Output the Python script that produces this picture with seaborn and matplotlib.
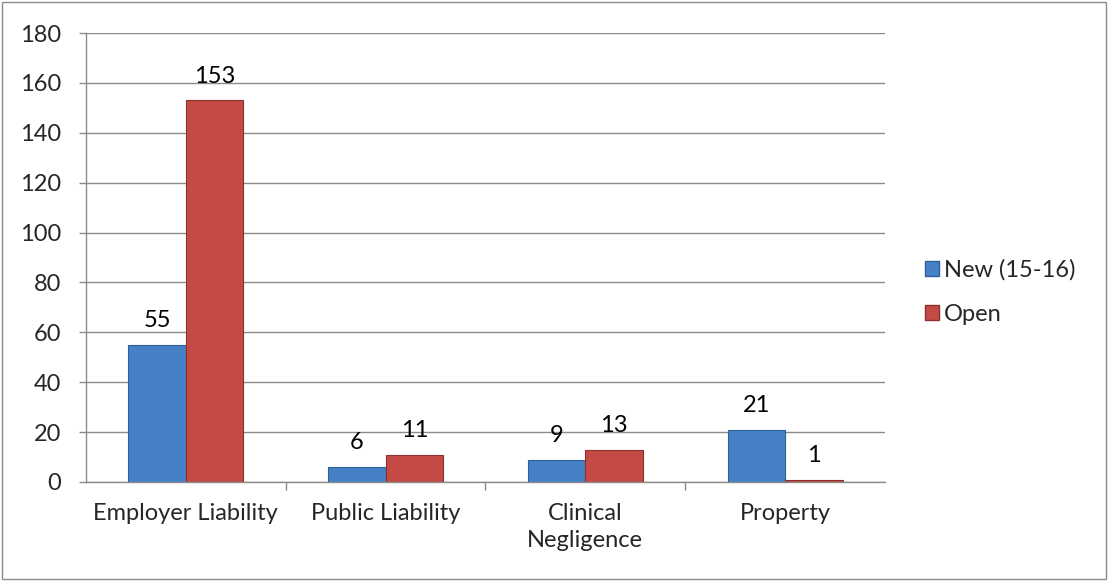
import matplotlib
matplotlib.use("Agg")
import matplotlib.pyplot as plt
import pandas as pd
import seaborn as sns
from matplotlib.patches import Patch, Rectangle

categories = ["Employer Liability", "Public Liability", "Clinical\nNegligence", "Property"]
new_vals = [55, 6, 9, 21]
open_vals = [153, 11, 13, 1]
series = ["New (15-16)", "Open"]
colors = ["#4680C6", "#C44A46"]
edges = ["#2F5F97", "#8E2F2C"]

df = pd.DataFrame({
    "category": categories * 2,
    "series": [series[0]] * 4 + [series[1]] * 4,
    "value": new_vals + open_vals,
})

sns.set_theme(style="white")
plt.rcParams["font.family"] = ["Lato", "DejaVu Sans"]
fs = 17

fig = plt.figure(figsize=(11.09, 5.81), dpi=100)
ax = fig.add_axes([0.0775, 0.1704, 0.7205, 0.7726])

sns.barplot(data=df, x="category", y="value", hue="series", palette=colors,
            width=0.575, ax=ax, legend=False, saturation=1)

for i, cont in enumerate(ax.containers):
    for bar in cont:
        bar.set_edgecolor(edges[i])
        bar.set_linewidth(0.8)
    ax.bar_label(cont, padding=10, fontsize=fs, color="black")

ax.set_ylim(0, 180)
ax.set_xlim(-0.5, 3.5)
ax.set_yticks(range(0, 181, 20))
ax.yaxis.grid(True, color="#8C8C8C", linewidth=1)
ax.set_axisbelow(True)
ax.set_xlabel("")
ax.set_ylabel("")
for s in ["top", "right"]:
    ax.spines[s].set_visible(False)
for s in ["left", "bottom"]:
    ax.spines[s].set_color("#8C8C8C")
    ax.spines[s].set_linewidth(1)

ax.tick_params(axis="x", which="major", length=0, pad=15, labelsize=fs)
ax.set_xticks([0.5, 1.5, 2.5], minor=True)
ax.tick_params(axis="x", which="minor", length=6, color="#8C8C8C", width=1, bottom=True)
ax.tick_params(axis="y", length=5, color="#8C8C8C", width=1, left=True, labelsize=fs, pad=13)
for lbl in ax.get_xticklabels():
    lbl.set_linespacing(1.35)

handles = [Patch(facecolor=colors[i], edgecolor=edges[i], label=series[i]) for i in range(2)]
fig.legend(handles=handles, loc="center left", bbox_to_anchor=(0.815, 0.497),
           frameon=False, fontsize=fs, handlelength=0.6, handleheight=0.6,
           handletextpad=0.2, labelspacing=1.0)

fig.patches.append(Rectangle((0.002, 0.003), 0.995, 0.994, transform=fig.transFigure,
                             fill=False, edgecolor="#8C8C8C", linewidth=1))

fig.savefig("out.png", dpi=100)
